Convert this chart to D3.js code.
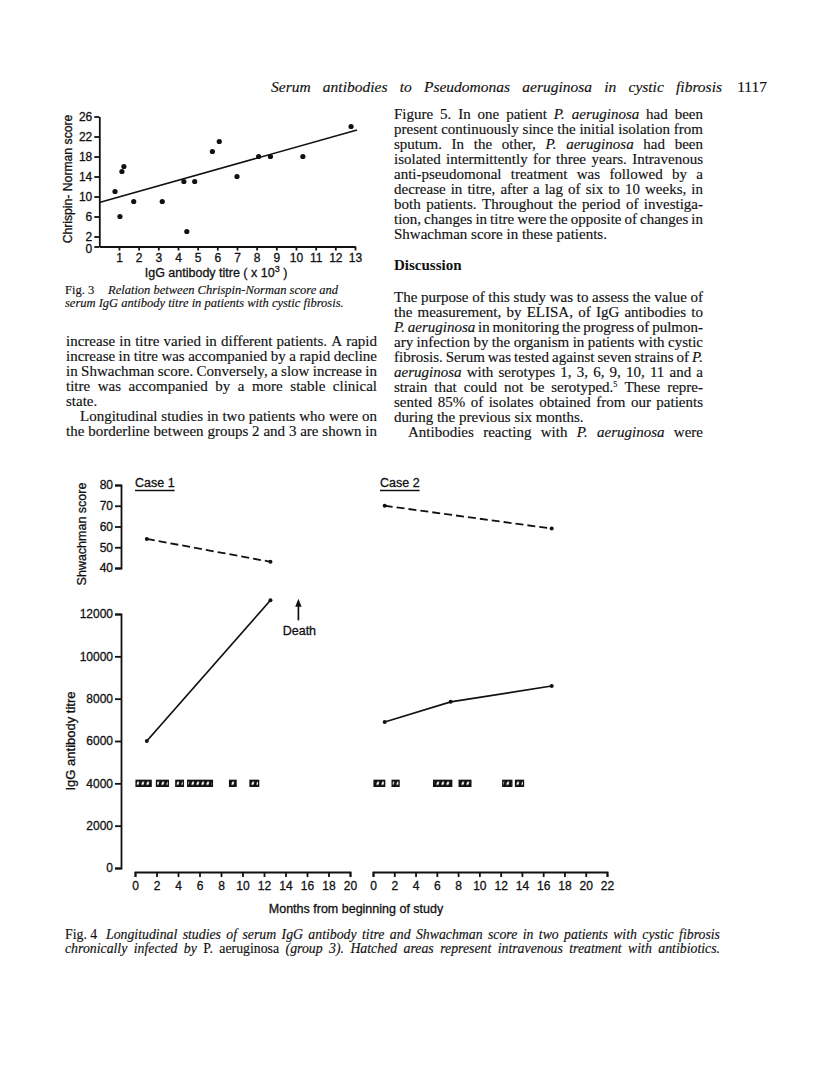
<!DOCTYPE html>
<html><head><meta charset="utf-8">
<script src="https://cdn.jsdelivr.net/npm/d3@7"></script>
<style>body{margin:0;background:#fff} svg{display:block}</style>
</head><body><script>
// ---------- DATA ----------
// Fig 3: Chrispin-Norman score vs IgG antibody titre (x10^3)
const fig3Titre = [0.8, 1.15, 1.25, 1.05, 1.75, 3.2, 4.3, 4.45, 4.85, 5.75, 6.1, 7.0, 8.1, 8.7, 10.35, 12.8];
const fig3Score = [11, 15, 16, 6, 9, 9, 13, 3, 13, 19, 21, 14, 18, 18, 18, 24];
const fig3FitX = [0, 13.1];
const fig3FitY = [8.8, 23.3];
const fig3YTicks = [0, 2, 6, 10, 14, 18, 22, 26];
const fig3XTicks = [1, 2, 3, 4, 5, 6, 7, 8, 9, 10, 11, 12, 13];

// Fig 4: longitudinal studies
const case1Months = [1.1, 12.6];
const case1Shwachman = [54, 43];
const case1IgG = [6000, 12650];
const case2ShwMonths = [1.1, 16.8];
const case2Shwachman = [70, 59];
const case2IgGMonths = [1.1, 7.3, 16.8];
const case2IgG = [6900, 7850, 8600];
const case1TreatStart = [0.1, 2.0, 3.8, 4.9, 8.8, 10.7];
const case1TreatEnd = [1.5, 3.1, 4.5, 7.2, 9.4, 11.5];
const case2TreatStart = [0.1, 1.8, 5.7, 8.1, 12.2, 13.4];
const case2TreatEnd = [1.1, 2.45, 7.4, 9.2, 13.05, 14.15];
const treatLevel = 4000;
const deathMonth = 15.2;
const deathArrow = [11700, 12720];
const shwTicks = [40, 50, 60, 70, 80];
const iggTicks = [0, 2000, 4000, 6000, 8000, 10000, 12000];
const case1XTicks = [0, 2, 4, 6, 8, 10, 12, 14, 16, 18, 20];
const case2XTicks = [0, 2, 4, 6, 8, 10, 12, 14, 16, 18, 20, 22];

// Text
const header = "Serum antibodies to Pseudomonas aeruginosa in cystic fibrosis";
const pageNo = "1117";
const leftLines = [
  ["increase in titre varied in different patients. A rapid", 1, 0],
  ["increase in titre was accompanied by a rapid decline", 1, 0],
  ["in Shwachman score. Conversely, a slow increase in", 1, 0],
  ["titre was accompanied by a more stable clinical", 1, 0],
  ["state.", 0, 0],
  ["Longitudinal studies in two patients who were on", 1, 1],
  ["the borderline between groups 2 and 3 are shown in", 1, 0]
];
const rightLines1 = [
  ["Figure 5. In one patient *P.* *aeruginosa* had been", 1, 0],
  ["present continuously since the initial isolation from", 1, 0],
  ["sputum. In the other, *P.* *aeruginosa* had been", 1, 0],
  ["isolated intermittently for three years. Intravenous", 1, 0],
  ["anti-pseudomonal treatment was followed by a", 1, 0],
  ["decrease in titre, after a lag of six to 10 weeks, in", 1, 0],
  ["both patients. Throughout the period of investiga-", 1, 0],
  ["tion, changes in titre were the opposite of changes in", 1, 0],
  ["Shwachman score in these patients.", 0, 0]
];
const rightLines2 = [
  ["The purpose of this study was to assess the value of", 1, 0],
  ["the measurement, by ELISA, of IgG antibodies to", 1, 0],
  ["*P.* *aeruginosa* in monitoring the progress of pulmon-", 1, 0],
  ["ary infection by the organism in patients with cystic", 1, 0],
  ["fibrosis. Serum was tested against seven strains of *P.*", 1, 0],
  ["*aeruginosa* with serotypes 1, 3, 6, 9, 10, 11 and a", 1, 0],
  ["strain that could not be serotyped.^5 These repre-", 1, 0],
  ["sented 85% of isolates obtained from our patients", 1, 0],
  ["during the previous six months.", 0, 0],
  ["Antibodies reacting with *P.* *aeruginosa* were", 1, 1]
];
const fig3Cap = ["Relation between Chrispin-Norman score and", "serum IgG antibody titre in patients with cystic fibrosis."];
const fig4Cap1 = "Longitudinal studies of serum IgG antibody titre and Shwachman score in two patients with cystic fibrosis";
const fig4Cap2 = "chronically infected by *P.* *aeruginosa* (group 3). Hatched areas represent intravenous treatment with antibiotics.";

// ---------- DRAW ----------
const W = 816, H = 1090;
const SERIF = "'Liberation Serif','Times New Roman',serif";
const SANS = "'Liberation Sans',Arial,sans-serif";
const INK = "#111";
const svg = d3.select("body").append("svg").attr("width", W).attr("height", H);
svg.append("rect").attr("width", W).attr("height", H).attr("fill", "#fff");

function textLine(g, x, y, width, str, justify, size, baseStyle, weight) {
  const tokens = str.split(" ").filter(s => s.length);
  const nodes = tokens.map(tok => {
    let t = tok, style = baseStyle;
    if (t.startsWith("*") && t.endsWith("*")) { t = t.slice(1, -1); style = baseStyle === "italic" ? "normal" : "italic"; }
    const el = g.append("text").attr("y", y).attr("font-family", SERIF).attr("font-size", size)
      .attr("font-style", style).attr("font-weight", weight || "normal").attr("fill", INK)
      .attr("stroke", INK).attr("stroke-width", 0.15);
    const parts = t.split("^");
    el.append("tspan").text(parts[0]);
    if (parts[1]) el.append("tspan").attr("dy", -size * 0.3).attr("font-size", size * 0.55).text(parts[1]);
    return { el, w: el.node().getComputedTextLength() };
  });
  const sum = d3.sum(nodes, d => d.w);
  let gap = size * 0.25;
  let scale = 1;
  if (justify && nodes.length > 1) {
    gap = (width - sum) / (nodes.length - 1);
    const minGap = size * 0.18;
    if (gap < minGap) {
      gap = minGap;
      scale = (width - gap * (nodes.length - 1)) / sum;
    }
  }
  let cx = x;
  nodes.forEach(n => {
    n.el.attr("x", cx);
    if (scale !== 1) n.el.attr("textLength", n.w * scale).attr("lengthAdjust", "spacingAndGlyphs");
    cx += n.w * scale + gap;
  });
}

const BODY = 15;
const txt = svg.append("g");
// header
textLine(txt, 271, 92, 451, header, 1, 15.5, "italic");
txt.append("text").attr("x", 767).attr("y", 92).attr("text-anchor", "end")
  .attr("font-family", SERIF).attr("font-size", 15.5).attr("fill", INK).attr("stroke", INK)
  .attr("stroke-width", 0.15).text(pageNo);

const IND = 14;
leftLines.forEach((l, i) => textLine(txt, 66 + (l[2] ? IND : 0), 345.5 + 15 * i, 311 - (l[2] ? IND : 0), l[0], l[1], BODY, "normal"));
rightLines1.forEach((l, i) => textLine(txt, 394 + (l[2] ? IND : 0), 118.5 + 15 * i, 309 - (l[2] ? IND : 0), l[0], l[1], BODY, "normal"));
txt.append("text").attr("x", 394).attr("y", 270).attr("font-family", SERIF).attr("font-size", BODY)
  .attr("font-weight", "bold").attr("fill", INK).text("Discussion");
rightLines2.forEach((l, i) => textLine(txt, 394 + (l[2] ? IND : 0), 301.5 + 15 * i, 309 - (l[2] ? IND : 0), l[0], l[1], BODY, "normal"));

// captions
function capLabel(x, y, t, fs) {
  txt.append("text").attr("x", x).attr("y", y).attr("font-family", SERIF).attr("font-size", fs)
    .attr("fill", INK).attr("stroke", INK).attr("stroke-width", 0.15).text(t);
}
capLabel(65, 294, "Fig. 3", 12.5);
textLine(txt, 108, 294, 240, fig3Cap[0], 0, 12.5, "italic");
textLine(txt, 65, 307, 280, fig3Cap[1], 0, 12.5, "italic");
capLabel(65, 939, "Fig. 4", 13.8);
textLine(txt, 106, 939, 614, fig4Cap1, 1, 13.8, "italic");
textLine(txt, 65, 953, 655, fig4Cap2, 1, 13.8, "italic");

function styleAxis(g, fs) {
  g.selectAll("path,line").attr("stroke", INK).attr("stroke-width", 1.8);
  g.selectAll("text").attr("font-family", SANS).attr("font-size", fs).attr("fill", INK)
    .attr("stroke", INK).attr("stroke-width", 0.3);
}
function sansText(g, fs) {
  return g.append("text").attr("font-family", SANS).attr("font-size", fs).attr("fill", INK)
    .attr("stroke", INK).attr("stroke-width", 0.3);
}

// ---------- FIG 3 ----------
const x3 = d3.scaleLinear().domain([0, 13]).range([99.3, 355]);
const y3 = d3.scaleLinear().domain([0, 26]).range([246.5, 116.5]);
const g3 = svg.append("g");
g3.append("g").attr("transform", `translate(${x3(0)},0)`)
  .call(d3.axisLeft(y3).tickValues(fig3YTicks).tickSize(5).tickSizeOuter(0).tickPadding(2))
  .call(g => styleAxis(g, 12))
  .call(g => g.selectAll(".tick").filter(d => d === 0).select("text").attr("dy", "0.5em"));
g3.append("g").attr("transform", `translate(0,${y3(0)})`)
  .call(d3.axisBottom(x3).tickValues(fig3XTicks).tickSize(4).tickSizeOuter(0).tickPadding(3))
  .call(g => styleAxis(g, 12));
g3.append("line").attr("x1", x3(fig3FitX[0])).attr("y1", y3(fig3FitY[0]))
  .attr("x2", x3(fig3FitX[1])).attr("y2", y3(fig3FitY[1])).attr("stroke", INK).attr("stroke-width", 1.6);
g3.selectAll("circle").data(fig3Titre).join("circle")
  .attr("cx", d => x3(d)).attr("cy", (d, i) => y3(fig3Score[i])).attr("r", 2.6).attr("fill", INK);
const xl3 = sansText(g3, 12.5).attr("x", 216).attr("y", 277).attr("text-anchor", "middle");
xl3.append("tspan").text("IgG antibody titre ( x 10");
xl3.append("tspan").attr("dy", -5).attr("font-size", 9).text("3");
xl3.append("tspan").attr("dy", 5).text(" )");
sansText(g3, 12.2).attr("transform", "translate(72,179) rotate(-90)").attr("text-anchor", "middle")
  .text("Chrispin- Norman score");

// ---------- FIG 4 ----------
const xC1 = d3.scaleLinear().domain([0, 20]).range([135, 350]);
const xC2 = d3.scaleLinear().domain([0, 22]).range([373, 607]);
const yShw = d3.scaleLinear().domain([40, 80]).range([568, 485]);
const yIgG = d3.scaleLinear().domain([0, 12000]).range([868, 614]);
const g4 = svg.append("g");
const AXX = 121;
const fmt = d3.format("d");
g4.append("g").attr("transform", `translate(${AXX},0)`)
  .call(d3.axisLeft(yShw).tickValues(shwTicks).tickFormat(fmt).tickSize(6).tickSizeOuter(6).tickPadding(2))
  .call(g => styleAxis(g, 12));
g4.append("g").attr("transform", `translate(${AXX},0)`)
  .call(d3.axisLeft(yIgG).tickValues(iggTicks).tickFormat(fmt).tickSize(6).tickSizeOuter(6).tickPadding(2))
  .call(g => styleAxis(g, 12));
const XAY = 872;
g4.append("g").attr("transform", `translate(0,${XAY})`)
  .call(d3.axisBottom(xC1).tickValues(case1XTicks).tickFormat(fmt).tickSize(5).tickSizeOuter(5).tickPadding(4))
  .call(g => styleAxis(g, 12));
g4.append("g").attr("transform", `translate(0,${XAY})`)
  .call(d3.axisBottom(xC2).tickValues(case2XTicks).tickFormat(fmt).tickSize(5).tickSizeOuter(5).tickPadding(4))
  .call(g => styleAxis(g, 12));

sansText(g4, 12.5).attr("transform", "translate(86,534) rotate(-90)").attr("text-anchor", "middle")
  .text("Shwachman score");
sansText(g4, 13).attr("transform", "translate(75,741) rotate(-90)").attr("text-anchor", "middle")
  .text("IgG antibody titre");
sansText(g4, 12.5).attr("x", 356).attr("y", 913).attr("text-anchor", "middle")
  .text("Months from beginning of study");

function caseLabel(x, t) {
  const el = sansText(g4, 12.5).attr("x", x).attr("y", 487).text(t);
  const w = el.node().getComputedTextLength();
  g4.append("line").attr("x1", x).attr("x2", x + w).attr("y1", 490.5).attr("y2", 490.5)
    .attr("stroke", INK).attr("stroke-width", 1.3);
}
caseLabel(135, "Case 1");
caseLabel(380, "Case 2");

// hatch pattern for treatment boxes
const defs = svg.append("defs");
const boxTop = yIgG(treatLevel) - 3;
const pat = defs.append("pattern").attr("id", "hatch").attr("patternUnits", "userSpaceOnUse")
  .attr("width", 5).attr("height", 6).attr("y", boxTop);
pat.append("rect").attr("width", 5).attr("height", 6).attr("fill", INK);
pat.append("polygon").attr("points", "1.2,4.6 3.4,4.6 4.4,1.4 2.2,1.4").attr("fill", "#fff");

function drawCase(xs, shwM, shw, igM, ig, tS, tE) {
  const dashed = d3.line().x((d, i) => xs(shwM[i])).y(d => yShw(d));
  g4.append("path").attr("d", dashed(shw)).attr("fill", "none").attr("stroke", INK)
    .attr("stroke-width", 1.8).attr("stroke-dasharray", "8,4");
  g4.selectAll(null).data(shw).join("circle").attr("cx", (d, i) => xs(shwM[i])).attr("cy", d => yShw(d))
    .attr("r", 2).attr("fill", INK);
  const solid = d3.line().x((d, i) => xs(igM[i])).y(d => yIgG(d));
  g4.append("path").attr("d", solid(ig)).attr("fill", "none").attr("stroke", INK).attr("stroke-width", 1.7);
  g4.selectAll(null).data(ig).join("circle").attr("cx", (d, i) => xs(igM[i])).attr("cy", d => yIgG(d))
    .attr("r", 2).attr("fill", INK);
  g4.selectAll(null).data(tS).join("rect")
    .attr("x", d => xs(d)).attr("width", (d, i) => xs(tE[i]) - xs(d))
    .attr("y", boxTop).attr("height", 6)
    .attr("fill", "url(#hatch)").attr("stroke", INK).attr("stroke-width", 1.3);
}
drawCase(xC1, case1Months, case1Shwachman, case1Months, case1IgG, case1TreatStart, case1TreatEnd);
drawCase(xC2, case2ShwMonths, case2Shwachman, case2IgGMonths, case2IgG, case2TreatStart, case2TreatEnd);

// death arrow
const ax = xC1(deathMonth);
g4.append("line").attr("x1", ax).attr("x2", ax).attr("y1", yIgG(deathArrow[0])).attr("y2", yIgG(deathArrow[1]) + 5)
  .attr("stroke", INK).attr("stroke-width", 1.7);
g4.append("path").attr("d", `M${ax},${yIgG(deathArrow[1])} L${ax - 3.2},${yIgG(deathArrow[1]) + 8} L${ax + 3.2},${yIgG(deathArrow[1]) + 8} Z`)
  .attr("fill", INK);
sansText(g4, 12.5).attr("x", ax + 1).attr("y", 635).attr("text-anchor", "middle").text("Death");
</script></body></html>
